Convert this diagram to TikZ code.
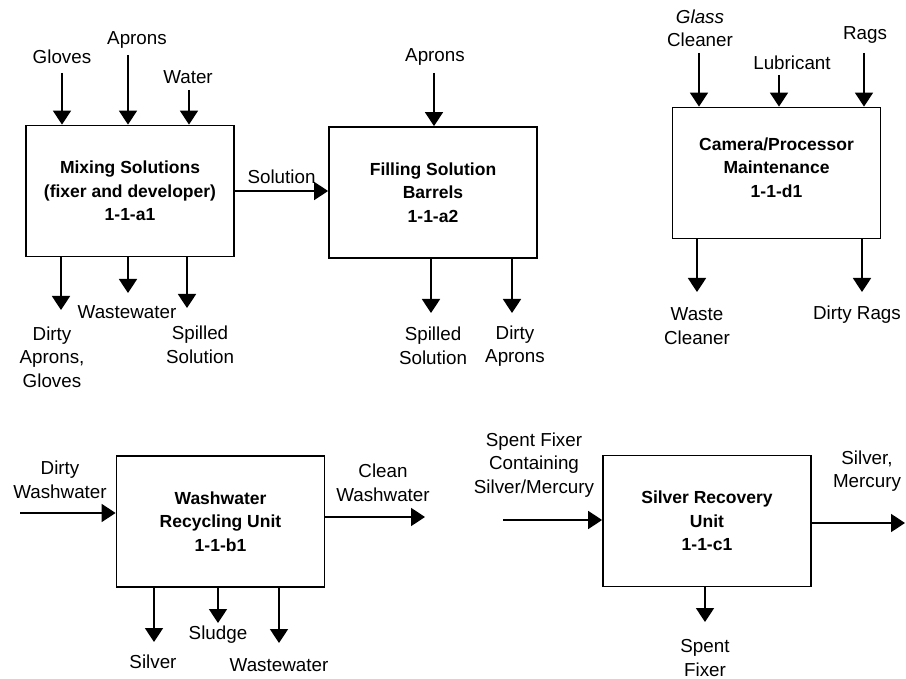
\documentclass[tikz,border=0pt]{standalone}
\usepackage{fontspec}
\setmainfont{Liberation Sans}
\usetikzlibrary{arrows.meta,positioning}

\begin{document}
\begin{tikzpicture}[
  x=1pt,y=-1pt,
  unit/.style={draw,line width=1.8pt,minimum width=208pt,minimum height=131pt,
               align=center,font=\fontsize{17.5}{23.5}\selectfont\bfseries},
  tag/.style={align=center,inner sep=0pt,font=\fontsize{18.8}{23.5}\selectfont},
  flow/.style={-{Triangle[length=14pt,width=18pt]},line width=1.8pt}
]
\useasboundingbox (0,0) rectangle (906,679);

% process boxes
\node[unit] (mix) at (130,191) {Mixing Solutions\\(fixer and developer)\\1-1-a1};
\node[unit] (fill) at (433,192.5) {Filling Solution\\Barrels\\1-1-a2};
\node[unit] (cam) at (776.5,173) {Camera/Processor\\Maintenance\\1-1-d1\\[-12pt]\mbox{}};
\node[unit] (wash) at (220.5,521.5) {Washwater\\Recycling Unit\\1-1-b1};
\node[unit] (silv) at (707,521) {Silver Recovery\\Unit\\1-1-c1};

% mixing solutions
\node[tag] (gloves) at (62,57) {Gloves};
\node[tag] (aprons) at (137,40) {Aprons};
\node[tag] (water) at (188,77) {Water};
\coordinate (glovesin) at (62,73);
\coordinate (apronsin) at (128,55);
\coordinate (waterin) at (189,90);
\draw[flow] (glovesin) -- (glovesin |- mix.north);
\draw[flow] (apronsin) -- (apronsin |- mix.north);
\draw[flow] (waterin) -- (waterin |- mix.north);
\node[tag] (dirtyag) at (52,357) {Dirty\\Aprons,\\Gloves};
\node[tag] (wastew) at (127,312) {Wastewater};
\node[tag] (spill) at (200,345) {Spilled\\Solution};
\coordinate (dirtyagout) at (61,310);
\coordinate (wastewout) at (128,293);
\coordinate (spillout) at (187,308);
\draw[flow] (mix.south -| dirtyagout) -- (dirtyagout);
\draw[flow] (mix.south -| wastewout) -- (wastewout);
\draw[flow] (mix.south -| spillout) -- (spillout);
\draw[flow] (mix.east |- 0,191) -- node[tag,above=6pt] (sol) {Solution} (fill.west |- 0,191);

% filling solution barrels
\node[tag] (aprons2) at (435,57) {Aprons};
\coordinate (aprons2in) at (434,73);
\draw[flow] (aprons2in) -- (aprons2in |- fill.north);
\node[tag] (spill2) at (433,346) {Spilled\\Solution};
\node[tag] (dirtya) at (515,346) {Dirty\\Aprons};
\coordinate (spill2out) at (431,313);
\coordinate (dirtyaout) at (512,313);
\draw[flow] (fill.south -| spill2out) -- (spill2out);
\draw[flow] (fill.south -| dirtyaout) -- (dirtyaout);

% camera/processor maintenance
\node[tag] (glass) at (700,28.5) {\textit{Glass}\\Cleaner};
\node[tag] (lube) at (792,63) {Lubricant};
\node[tag] (rags) at (865,35) {Rags};
\coordinate (glassin) at (699,53);
\coordinate (lubein) at (779,75);
\coordinate (ragsin) at (864,53);
\draw[flow] (glassin) -- (glassin |- cam.north);
\draw[flow] (lubein) -- (lubein |- cam.north);
\draw[flow] (ragsin) -- (ragsin |- cam.north);
\node[tag] (wastecl) at (697,326) {Waste\\Cleaner};
\node[tag] (dirtyr) at (857,315) {Dirty Rags};
\coordinate (wasteclout) at (697,292);
\coordinate (dirtyrout) at (862,292);
\draw[flow] (cam.south -| wasteclout) -- (wasteclout);
\draw[flow] (cam.south -| dirtyrout) -- (dirtyrout);

% washwater recycling unit
\node[tag] (dirtyw) at (60,480) {Dirty\\Washwater};
\coordinate (dirtywin) at (20,513);
\draw[flow] (dirtywin) -- (dirtywin -| wash.west);
\node[tag] (cleanw) at (383,483) {Clean\\Washwater};
\coordinate (cleanwout) at (425,517);
\draw[flow] (wash.east |- cleanwout) -- (cleanwout);
\node[tag] (sludge) at (218,635) {Sludge};
\node[tag] (silver) at (153,662) {Silver};
\node[tag] (wastew2) at (279,665) {Wastewater};
\coordinate (silverout) at (154,642);
\coordinate (sludgeout) at (218,623);
\coordinate (wastew2out) at (279,643);
\draw[flow] (wash.south -| silverout) -- (silverout);
\draw[flow] (wash.south -| sludgeout) -- (sludgeout);
\draw[flow] (wash.south -| wastew2out) -- (wastew2out);

% silver recovery unit
\node[tag] (spentin) at (534,465) {Spent Fixer\\Containing\\Silver/Mercury};
\coordinate (spentinpt) at (503,520);
\draw[flow] (spentinpt) -- (spentinpt -| silv.west);
\node[tag] (silmer) at (867,471) {Silver,\\Mercury};
\coordinate (silmerout) at (905,523);
\draw[flow] (silv.east |- silmerout) -- (silmerout);
\node[tag] (spentfx) at (705,658) {Spent\\Fixer};
\coordinate (spentfxout) at (705,622);
\draw[flow] (silv.south -| spentfxout) -- (spentfxout);
\end{tikzpicture}
\end{document}
